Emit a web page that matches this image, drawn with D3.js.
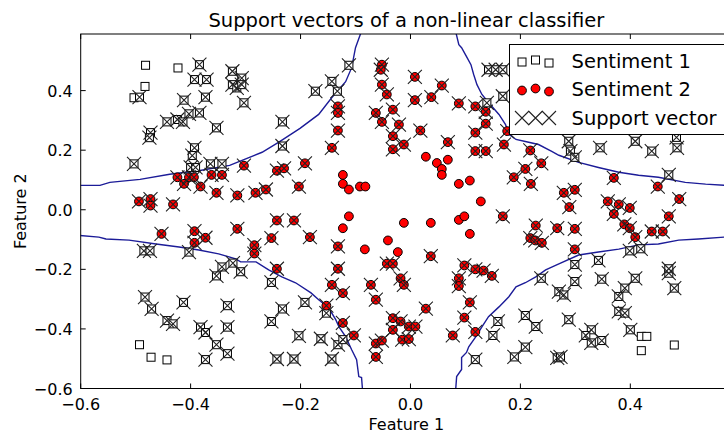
<!DOCTYPE html>
<html>
<head>
<meta charset="UTF-8">
<script src="https://d3js.org/d3.v7.min.js"></script>
<style>
  body { margin: 0; background: #fff; }
  svg { display: block; font-family: "DejaVu Sans", sans-serif; }
</style>
</head>
<body>
<svg width="724" height="434"></svg>
<script>
// data (feature 1, feature 2)
const sentiment1 = [[-0.482,0.485],[-0.423,0.476],[-0.483,0.414],[-0.503,0.376],[-0.493,-0.453],[-0.472,-0.495],[-0.443,-0.504],
  [0.420,-0.425],[0.430,-0.425],[0.420,-0.473],[0.480,-0.454]];

const sentiment1Sv = [
  [-0.384,0.487],[-0.393,0.437],[-0.371,0.437],[-0.324,0.465],[-0.307,0.442],[-0.324,0.420],[-0.316,0.409],[-0.307,0.420],
  [-0.303,0.359],[-0.493,0.378],[-0.412,0.368],[-0.373,0.378],[-0.403,0.322],[-0.384,0.325],[-0.443,0.295],[-0.424,0.303],
  [-0.414,0.295],[-0.353,0.275],[-0.473,0.259],[-0.475,0.242],[-0.393,0.208],[-0.503,0.154],[-0.397,0.182],[-0.400,0.142],
  [-0.391,0.142],[-0.364,0.154],[-0.343,0.154],[-0.112,0.485],[-0.143,0.431],[-0.133,0.398],[-0.173,0.398],[-0.233,0.295],
  [-0.233,0.214],
  [0.142,0.470],[0.155,0.470],[0.168,0.470],[0.139,0.359],[0.168,0.381],[0.288,0.230],[0.291,0.197],[0.345,0.208],
  [0.409,0.230],[0.439,0.197],[0.485,0.208],[0.484,0.243],[0.299,0.176],[0.470,0.117],
  [-0.485,-0.138],[-0.474,-0.138],[-0.403,-0.142],[-0.343,-0.192],[-0.323,-0.179],[-0.353,-0.222],[-0.483,-0.293],
  [-0.471,-0.333],[-0.413,-0.311],[-0.443,-0.372],[-0.432,-0.383],[-0.333,-0.322],[-0.333,-0.394],[-0.333,-0.483],
  [-0.382,-0.394],[-0.373,-0.412],[-0.353,-0.453],[-0.373,-0.503],[-0.309,-0.208],[-0.253,-0.244],[-0.192,-0.311],
  [-0.233,-0.333],[-0.253,-0.375],[-0.203,-0.423],[-0.163,-0.433],[-0.132,-0.453],[-0.123,-0.436],[-0.243,-0.501],
  [-0.212,-0.501],[-0.143,-0.501],[-0.153,-0.347],
  [0.159,-0.375],[0.150,-0.422],[0.118,-0.503],[0.209,-0.355],[0.228,-0.392],[0.209,-0.461],[0.189,-0.494],[0.238,-0.230],
  [0.270,-0.275],[0.267,-0.497],[0.299,-0.241],[0.348,-0.233],[0.409,-0.230],[0.470,-0.213],[0.480,-0.263],[0.279,-0.286],
  [0.379,-0.291],[0.390,-0.263],[0.288,-0.369],[0.379,-0.341],[0.390,-0.347],[0.329,-0.403],[0.319,-0.422],[0.329,-0.447],
  [0.348,-0.439],[0.400,-0.403],[0.273,-0.494],[0.399,-0.138],[0.419,-0.131],[0.299,-0.184],[0.342,-0.170],[0.470,-0.198]
];

const sentiment2 = [[-0.123,0.117],[-0.123,0.087],[-0.112,0.068],[-0.092,0.078],[-0.082,0.078],[-0.112,-0.022],[-0.123,-0.062],
  [-0.041,-0.103],[-0.083,-0.133],[-0.023,-0.142],[0.028,0.178],[0.048,0.157],[0.068,0.168],[0.057,0.137],[0.057,0.117],
  [0.088,0.087],[0.108,0.098],[0.128,0.028],[-0.012,-0.044],[0.037,-0.044],[0.088,-0.034],[0.098,-0.022],[0.108,-0.081]];

const sentiment2Sv = [
  [-0.052,0.487],[-0.054,0.470],[-0.052,0.420],[-0.043,0.387],[-0.132,0.347],[-0.132,0.325],[-0.132,0.266],[-0.143,0.208],
  [-0.063,0.325],[-0.052,0.295],[-0.032,0.336],[-0.021,0.286],[-0.032,0.247],[-0.032,0.203],[0.008,0.446],[0.057,0.417],
  [0.008,0.368],[0.038,0.378],[0.088,0.357],[0.118,0.347],[0.137,0.329],[0.137,0.289],[0.118,0.259],[0.137,0.197],
  [0.018,0.266],[-0.012,0.219],[0.068,0.227],[0.118,0.197],[0.170,0.219],[0.218,0.199],[0.176,0.264],
  [-0.424,0.109],[-0.412,0.087],[-0.403,0.109],[-0.394,0.109],[-0.382,0.078],[-0.362,0.117],[-0.343,0.117],[-0.353,0.057],
  [-0.315,0.048],[-0.494,0.028],[-0.473,0.036],[-0.473,0.014],[-0.432,0.018],[-0.453,-0.081],[-0.393,-0.072],[-0.373,-0.094],
  [-0.393,-0.111],[-0.315,-0.064],[-0.303,0.148],[-0.243,0.131],[-0.230,0.139],[-0.192,0.156],[-0.282,0.057],[-0.263,0.068],
  [-0.203,0.078],[-0.243,-0.036],[-0.212,-0.036],[-0.253,-0.095],[-0.183,-0.092],[-0.284,-0.119],[-0.284,-0.147],
  [-0.132,-0.123],[-0.132,-0.198],[-0.243,-0.198],[-0.043,-0.181],[-0.032,-0.181],
  [0.168,-0.022],[0.188,0.109],[0.209,0.137],[0.238,0.156],[0.219,0.087],[0.228,-0.053],[0.267,-0.062],[0.218,-0.095],
  [0.227,-0.103],[0.239,-0.111],[0.037,-0.156],[0.098,-0.187],[0.118,-0.200],[0.133,-0.204],[0.370,0.107],[0.450,0.078],
  [0.279,0.057],[0.299,0.067],[0.289,0.009],[0.489,0.036],[0.359,0.028],[0.379,0.018],[0.399,0.006],[0.370,-0.014],
  [0.389,-0.049],[0.399,-0.062],[0.409,-0.092],[0.299,-0.064],[0.470,-0.022],[0.439,-0.073],[0.459,-0.073],[0.299,-0.133],
  [-0.153,-0.322],[-0.143,-0.252],[-0.123,-0.280],[-0.072,-0.252],[-0.063,-0.302],[-0.123,-0.380],[-0.103,-0.422],
  [-0.063,-0.449],[-0.052,-0.439],[-0.063,-0.494],[-0.032,-0.364],[-0.032,-0.403],[-0.018,-0.230],[-0.012,-0.252],
  [0.088,-0.230],[0.088,-0.256],[0.148,-0.222],[0.028,-0.332],[0.108,-0.311],[0.098,-0.362],[-0.018,-0.375],[-0.003,-0.392],
  [0.009,-0.392],[-0.015,-0.436],[-0.003,-0.434],[0.077,-0.422],[0.118,-0.410]
];

// decision boundary (4 branches)
const boundaryUL = [[-0.61,0.082],[-0.565,0.082],[-0.547,0.092],[-0.492,0.102],[-0.438,0.119],[-0.383,0.132],[-0.329,0.149],
  [-0.270,0.193],[-0.238,0.229],[-0.201,0.273],[-0.167,0.320],[-0.143,0.377],[-0.118,0.430],[-0.107,0.477],[-0.100,0.544],[-0.089,0.60]];
const boundaryUR = [[0.082,0.60],[0.088,0.554],[0.093,0.544],[0.102,0.514],[0.110,0.487],[0.115,0.454],[0.121,0.420],[0.130,0.387],
  [0.142,0.360],[0.161,0.320],[0.173,0.286],[0.179,0.253],[0.192,0.236],[0.209,0.229],[0.233,0.219],[0.257,0.196],[0.270,0.183],
  [0.306,0.159],[0.342,0.142],[0.379,0.126],[0.415,0.116],[0.451,0.109],[0.500,0.092],[0.537,0.086],[0.60,0.079]];
const boundaryLL = [[-0.61,-0.085],[-0.567,-0.092],[-0.554,-0.098],[-0.512,-0.102],[-0.463,-0.115],[-0.421,-0.125],[-0.385,-0.135],
  [-0.349,-0.148],[-0.318,-0.165],[-0.309,-0.175],[-0.281,-0.175],[-0.258,-0.202],[-0.234,-0.225],[-0.209,-0.245],[-0.181,-0.279],
  [-0.167,-0.302],[-0.149,-0.329],[-0.136,-0.369],[-0.130,-0.393],[-0.118,-0.426],[-0.107,-0.470],[-0.098,-0.503],[-0.094,-0.560],
  [-0.089,-0.563],[-0.087,-0.61]];
const boundaryLR = [[0.082,-0.61],[0.084,-0.560],[0.093,-0.536],[0.093,-0.496],[0.102,-0.479],[0.106,-0.460],[0.119,-0.426],
  [0.130,-0.393],[0.142,-0.359],[0.161,-0.326],[0.179,-0.292],[0.192,-0.259],[0.209,-0.245],[0.228,-0.225],[0.246,-0.202],
  [0.270,-0.182],[0.306,-0.152],[0.342,-0.142],[0.379,-0.132],[0.415,-0.118],[0.451,-0.115],[0.488,-0.102],[0.524,-0.098],[0.60,-0.088]];

const xTicks = [-0.6, -0.4, -0.2, 0.0, 0.2, 0.4];
const yTicks = [-0.6, -0.4, -0.2, 0.0, 0.2, 0.4];
const legendLabels = ["Sentiment 1", "Sentiment 2", "Support vector"];

const svg = d3.select("svg");
const mLeft = 80.7, mRight = 732, mTop = 34, mBottom = 388.5;

const x = d3.scaleLinear().domain([-0.6, 0.585]).range([mLeft, mRight]);
const y = d3.scaleLinear().domain([-0.6, 0.59]).range([mBottom, mTop]);

svg.append("defs").append("clipPath").attr("id", "plot")
  .append("rect").attr("x", mLeft).attr("y", mTop).attr("width", mRight - mLeft).attr("height", mBottom - mTop);

const plot = svg.append("g").attr("clip-path", "url(#plot)");

// boundary
const line = d3.line().x(d => x(d[0])).y(d => y(d[1]));
[boundaryUL, boundaryUR, boundaryLL, boundaryLR].forEach(b => {
  plot.append("path").attr("d", line(b))
    .attr("fill", "none").attr("stroke", "#1c1c98").attr("stroke-width", 1.4);
});

// squares
const sq = 8;
plot.selectAll(".s1").data(sentiment1.concat(sentiment1Sv)).enter().append("rect")
  .attr("x", d => x(d[0]) - sq / 2).attr("y", d => y(d[1]) - sq / 2)
  .attr("width", sq).attr("height", sq)
  .attr("fill", "#fff").attr("stroke", "#000").attr("stroke-width", 1);

// red circles
plot.selectAll(".s2").data(sentiment2.concat(sentiment2Sv)).enter().append("circle")
  .attr("cx", d => x(d[0])).attr("cy", d => y(d[1])).attr("r", 4.4)
  .attr("fill", "#ff0000").attr("stroke", "#000").attr("stroke-width", 1);

// support vector crosses
const cross = (cx, cy, h) => `M${cx - h},${cy - h}L${cx + h},${cy + h}M${cx - h},${cy + h}L${cx + h},${cy - h}`;
plot.selectAll(".sv").data(sentiment1Sv.concat(sentiment2Sv)).enter().append("path")
  .attr("d", d => cross(x(d[0]), y(d[1]), 7))
  .attr("fill", "none").attr("stroke", "#222").attr("stroke-width", 1.1);

// frame
svg.append("rect").attr("x", mLeft).attr("y", mTop).attr("width", mRight - mLeft).attr("height", mBottom - mTop)
  .attr("fill", "none").attr("stroke", "#000").attr("stroke-width", 1);

// ticks (inward, both sides)
const fmt = d3.format(".1f");
xTicks.forEach(t => {
  svg.append("line").attr("x1", x(t)).attr("x2", x(t)).attr("y1", mBottom).attr("y2", mBottom - 5).attr("stroke", "#000");
  svg.append("line").attr("x1", x(t)).attr("x2", x(t)).attr("y1", mTop).attr("y2", mTop + 5).attr("stroke", "#000");
  svg.append("text").attr("x", x(t)).attr("y", mBottom + 21).attr("text-anchor", "middle")
    .attr("font-size", 16).text(fmt(t));
});
yTicks.forEach(t => {
  svg.append("line").attr("x1", mLeft).attr("x2", mLeft + 5).attr("y1", y(t)).attr("y2", y(t)).attr("stroke", "#000");
  svg.append("text").attr("x", mLeft - 8).attr("y", y(t) + 6).attr("text-anchor", "end")
    .attr("font-size", 16).text(fmt(t));
});

// labels and title
svg.append("text").attr("x", (mLeft + mRight) / 2).attr("y", 27).attr("text-anchor", "middle")
  .attr("font-size", 19.5).text("Support vectors of a non-linear classifier");
svg.append("text").attr("x", (mLeft + mRight) / 2).attr("y", 430).attr("text-anchor", "middle")
  .attr("font-size", 16).text("Feature 1");
svg.append("text").attr("transform", `translate(26,${(mTop + mBottom) / 2}) rotate(-90)`)
  .attr("text-anchor", "middle").attr("font-size", 16).text("Feature 2");

// legend
const lg = svg.append("g");
lg.append("rect").attr("x", 509.5).attr("y", 44.5).attr("width", 230).attr("height", 90)
  .attr("fill", "#fff").attr("stroke", "#000").attr("stroke-width", 1);
const mx = [522, 535.5, 549];
const my = [1.5, -0.5, 2.5];
legendLabels.forEach((lab, i) => {
  const cy = 60.5 + i * 28.5;
  mx.forEach((px, j) => {
    if (i === 0) lg.append("rect").attr("x", px - sq / 2).attr("y", cy + my[j] - sq / 2).attr("width", sq).attr("height", sq)
      .attr("fill", "#fff").attr("stroke", "#000");
    if (i === 1) lg.append("circle").attr("cx", px).attr("cy", cy + my[j]).attr("r", 4.4)
      .attr("fill", "#ff0000").attr("stroke", "#000");
    if (i === 2) lg.append("path").attr("d", cross(px, cy + 0.5, 7)).attr("fill", "none")
      .attr("stroke", "#222").attr("stroke-width", 1.1);
  });
  lg.append("text").attr("x", 571.5).attr("y", cy + 7).attr("font-size", 19.5).text(lab);
});
</script>
</body>
</html>
